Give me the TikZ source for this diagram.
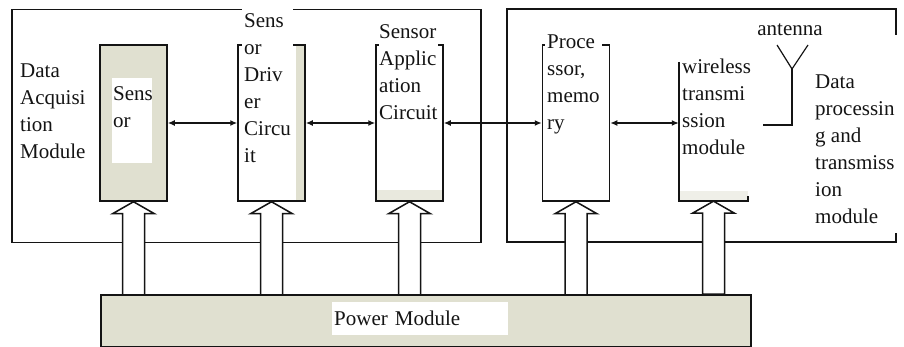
\documentclass[tikz,border=0pt]{standalone}
\usepackage{fontspec}
\setmainfont{Liberation Serif}
\usetikzlibrary{arrows.meta,calc}
\definecolor{beige}{RGB}{224,224,208}
\definecolor{ink}{RGB}{20,20,20}
\begin{document}
\begin{tikzpicture}[x=1pt,y=-1pt,
  every node/.style={font=\fontsize{21}{27}\selectfont, text=ink},
  border/.style={draw=ink,line width=1.5pt},
  blockbox/.style={border, minimum width=67pt, minimum height=156pt, inner sep=0pt},
  lbl/.style={align=left, inner sep=0pt, anchor=north west},
  lblw/.style={lbl, fill=white, inner xsep=2pt, inner ysep=3pt},
  link/.style={draw=ink, line width=1.4pt, {Latex[length=7pt,width=6pt]}-{Latex[length=7pt,width=6pt]}},
  pwr/.style={border, fill=white, line join=miter}
]
\useasboundingbox (0,0) rectangle (904,347);

% modules
\node[border, minimum width=469pt, minimum height=233pt, inner sep=0pt, anchor=north west] (acq) at (11,9) {};
\draw[border] (896,35) -- (896,9) -- (507,9) -- (507,242) -- (896,242) -- (896,233);

% power module
\node[border, fill=beige, minimum width=650pt, minimum height=52pt, inner sep=0pt, anchor=north west] (pm) at (100,294) {};
\node[fill=white, text width=172pt, align=left, inner sep=2pt, minimum height=33pt, anchor=north west] (pmt) at (332,302) {Power Module};

% blocks
\node[blockbox, fill=beige] (sen) at (133.5,123) {};
\node[fill=white, minimum width=40pt, minimum height=85pt, inner sep=0pt] (senin) at (132,120.5) {};
\node[lbl] (sent) at (113,86) {Sens\\or};

\node[blockbox, fill=white, path picture={\fill[beige] ($(path picture bounding box.north east)+(-9,0)$) rectangle (path picture bounding box.south east);}] (drv) at (271.5,123) {};
\node[lblw, inner ysep=6pt] (drvt) at (242,7) {Sens\\or\\Driv\\er\\Circu\\it};

\node[blockbox, fill=white, path picture={\fill[beige!70] ($(path picture bounding box.south west)+(0,-11)$) rectangle (path picture bounding box.south east);}] (app) at (409.5,123) {};
\node[lblw, inner xsep=0.5pt] (appt) at (378.5,21) {Sensor\\Applic\\ation\\Circuit};

\node[blockbox, fill=white] (proc) at (576,123) {};
\node[lblw] (proct) at (545,32) {Proce\\ssor,\\memo\\ry};

\node[minimum width=69pt, minimum height=139pt, inner sep=0pt] (wir) at (713.5,131.5) {};
\fill[beige!50] ($(wir.south west)+(0,-10)$) rectangle (wir.south east);
\draw[border] (wir.north west) -- (wir.south west) -- (wir.south east) -- ++(0,-5);
\node[lbl] (wirt) at (682,59) {wireless\\transmi\\ssion\\module};

% texts
\node[lbl] (acqt) at (20,64) {Data\\Acquisi\\tion\\Module};
\node[lbl] (dpt) at (815,75) {Data\\processin\\g and\\transmiss\\ion\\module};

% links
\draw[link] (sen.east) -- (drv.west);
\draw[link] (drv.east) -- (app.west);
\draw[link] (app.east) -- (proc.west);
\draw[link] (proc.east) -- (proc.east -| wir.west);

% antenna
\node[inner sep=1pt] (ant) at (790,30) {antenna};
\coordinate (al) at (777,45);
\coordinate (ar) at (808,45);
\coordinate (apex) at (792,69);
\coordinate (afoot) at (792,125);
\coordinate (aend) at (763,125);
\draw[draw=ink, line width=1.2pt] (al) -- (apex) -- (ar);
\draw[draw=ink, line width=1.2pt] (apex) -- (afoot) -- (aend);

% power arrows
\foreach \b in {sen,drv,app,proc,wir}{
  \draw[pwr] (\b.south) -- ++(21,12) -- ++(-10,0) -- ++(0,81) -- ++(-22,0) -- ++(0,-81) -- ++(-10,0) -- cycle;
}
\end{tikzpicture}
\end{document}
